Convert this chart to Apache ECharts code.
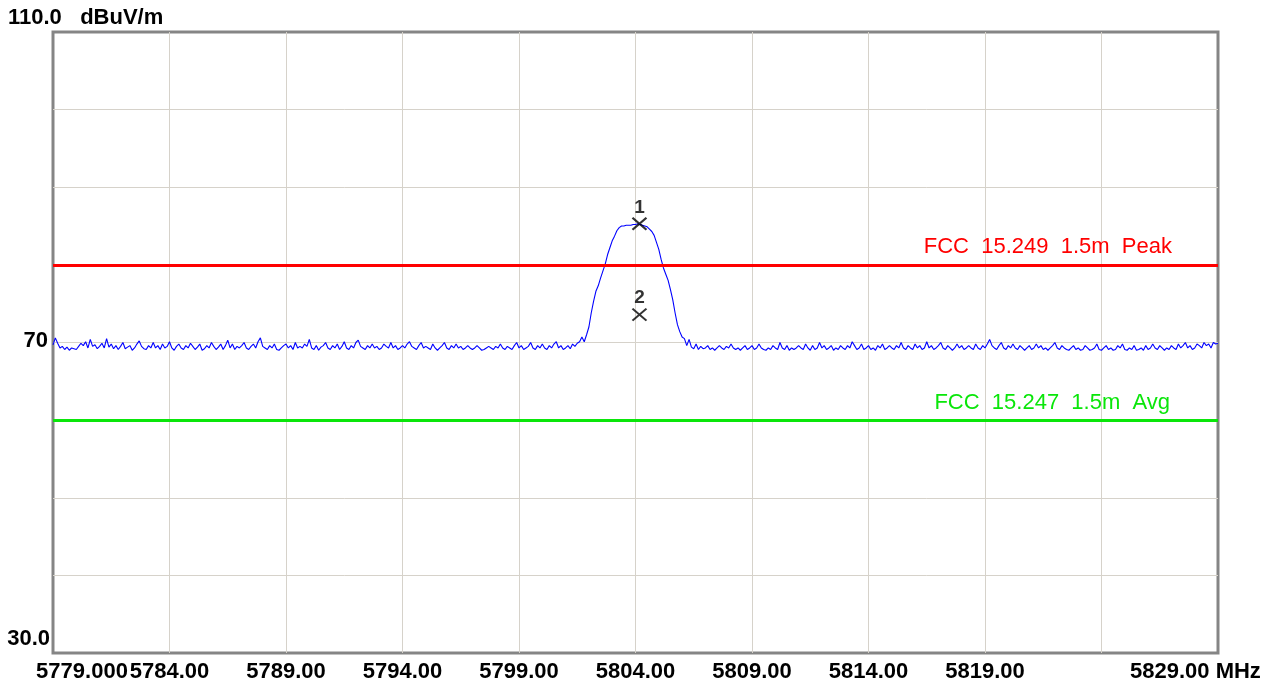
<!DOCTYPE html>
<html>
<head>
<meta charset="utf-8">
<script src="https://cdn.jsdelivr.net/npm/echarts@6/dist/echarts.min.js"></script>
<style>
  html, body { margin: 0; padding: 0; background: #fff; }
  #main { width: 1279px; height: 686px; }
</style>
</head>
<body>
<div id="main"></div>
<script>
// sweep: 5779.0 .. 5829.0 MHz, 0.1 MHz per bin
var freqStart = 5779.0;
var freqStep = 0.1;

// trace levels (dBuV/m), one row = 2 MHz
var traceLevels = [
  69.7,70.6,69.9,69.3,69.5,69.1,69.4,69.0,69.3,69.2,69.1,69.5,69.9,69.6,70.1,69.3,70.4,69.5,69.7,69.2,
  69.5,69.9,69.3,70.5,69.4,69.8,69.2,69.6,69.1,69.5,70.0,69.2,69.4,69.6,69.0,69.3,69.8,70.2,69.5,69.2,
  69.1,69.6,69.3,70.0,69.3,69.6,69.1,69.8,69.3,69.5,70.1,69.3,69.0,69.5,69.8,69.3,69.1,69.6,69.3,69.9,
  69.5,69.1,69.4,69.8,69.0,69.2,69.6,69.3,70.0,69.5,69.1,69.4,69.8,69.1,69.6,70.3,69.3,69.8,69.1,69.5,
  69.3,69.6,70.0,69.3,69.1,69.5,69.8,69.3,70.1,70.6,69.5,69.3,69.1,69.6,69.3,69.8,69.1,69.0,69.3,69.6,
  69.8,69.3,69.6,69.1,70.0,69.3,69.5,69.3,69.8,69.5,70.4,69.3,69.1,69.6,69.0,69.4,69.6,70.0,69.3,69.1,
  69.6,69.3,69.8,69.1,69.5,70.1,69.3,69.1,69.6,69.3,70.0,70.3,69.5,69.3,69.1,69.6,69.3,69.8,69.3,69.5,
  69.1,69.3,69.8,69.5,69.3,70.0,69.3,69.6,69.1,69.3,69.6,69.3,69.8,70.1,69.5,69.3,69.1,69.6,70.0,69.3,
  69.5,69.3,69.1,69.8,69.3,69.0,69.3,69.6,70.0,69.3,69.1,69.6,69.3,69.8,69.3,69.5,69.1,69.3,69.6,69.3,
  69.1,69.3,69.6,69.3,69.0,69.1,69.3,69.5,69.3,69.1,69.5,69.3,69.8,69.3,69.1,69.5,69.3,69.1,69.6,70.0,
  69.3,69.6,69.1,69.3,69.5,70.0,69.3,69.1,69.6,69.3,69.8,69.3,69.1,69.6,69.3,69.8,70.1,69.3,69.6,69.1,
  69.3,69.6,69.2,69.8,69.5,69.9,70.1,70.7,70.1,71.0,72.0,73.8,75.3,76.6,77.3,78.3,79.2,80.1,81.3,82.2,
  83.1,83.7,84.4,84.8,85.0,85.0,85.1,85.1,85.1,85.2,85.2,85.3,85.2,85.1,85.0,84.9,84.6,84.3,83.8,82.9,
  82.0,80.7,79.6,78.8,78.0,76.8,75.5,73.8,72.3,71.4,70.7,70.5,69.6,70.4,69.4,69.2,69.8,69.1,69.5,69.2,
  69.3,69.6,69.1,69.3,69.0,69.3,69.6,69.3,69.1,69.5,69.3,69.8,69.3,69.1,69.3,69.0,69.3,69.6,69.1,69.3,
  69.6,69.1,69.3,69.8,69.3,69.1,69.0,69.3,69.1,69.6,69.3,69.1,70.0,69.3,69.1,69.6,69.0,69.3,69.1,69.3,
  69.6,69.3,69.1,69.8,69.3,69.0,69.6,69.1,69.3,70.0,69.3,69.6,69.1,69.3,69.6,69.0,69.3,69.1,69.6,69.3,
  69.1,69.6,69.3,70.1,69.6,69.1,69.3,69.8,69.1,69.3,69.6,69.1,69.3,69.0,69.6,69.3,69.8,69.1,69.3,69.6,
  69.3,69.1,69.6,69.3,70.0,69.3,69.1,69.6,69.3,69.1,69.8,69.3,69.6,69.1,69.3,70.1,69.3,69.6,69.1,69.3,
  69.6,70.0,69.3,69.1,69.6,69.3,69.0,69.3,69.8,69.3,69.6,69.1,69.3,69.6,69.3,69.1,69.8,69.3,69.1,69.6,
  69.3,69.8,70.4,69.6,69.3,69.1,69.6,70.0,69.3,69.1,69.6,69.3,69.8,69.3,69.1,69.6,69.3,69.0,69.3,69.6,
  69.1,69.3,69.8,69.3,69.6,69.1,69.3,69.0,69.3,69.6,70.0,69.3,69.1,69.6,69.3,69.1,69.0,69.3,69.6,69.1,
  69.3,69.0,69.1,69.6,69.3,69.0,69.1,69.3,69.8,69.1,69.0,69.3,69.6,69.1,69.3,69.0,69.1,69.6,69.3,69.8,
  69.1,69.0,69.3,69.1,69.6,69.0,69.1,69.3,69.0,69.6,69.1,69.3,69.8,69.3,69.1,69.6,69.3,69.0,69.3,69.1,
  69.6,69.3,69.1,69.8,69.3,69.6,70.0,69.3,69.6,69.1,69.3,69.8,69.6,69.3,70.0,69.6,69.8,69.3,70.0,69.8,
  69.9
];

// markers
var markerNames = ['1', '2'];
var markerFreqs = [5804.17, 5804.17];
var markerLevels = [85.3, 73.6];

// limit lines
var limitNames = ['FCC  15.249  1.5m  Peak', 'FCC  15.247  1.5m  Avg'];
var limitLevels = [80, 60];
var limitColors = ['#ff0000', '#0ae60a'];

// axes
var xTicks = [5779, 5784, 5789, 5794, 5799, 5804, 5809, 5814, 5819, 5824, 5829];
var xTickLabels = ['5779.000', '5784.00', '5789.00', '5794.00', '5799.00', '5804.00',
                   '5809.00', '5814.00', '5819.00', '', '5829.00 MHz'];
var yTicks = [110, 70, 30];
var yTickLabels = ['110.0   dBuV/m', '70', '30.0'];

var FONT = '"Liberation Sans", Arial, sans-serif';

var traceData = traceLevels.map(function (v, i) {
  return [+(freqStart + i * freqStep).toFixed(1), v];
});
var markerData = markerNames.map(function (n, i) {
  return { name: n, value: [markerFreqs[i], markerLevels[i]] };
});

var myChart = echarts.init(document.getElementById('main'));
var option = {
  animation: false,
  backgroundColor: '#ffffff',
  grid: {
    left: 53, right: 61, top: 32, bottom: 33,
    show: true,
    backgroundColor: '#ffffff',
    borderColor: '#858585',
    borderWidth: 3
  },
  xAxis: {
    type: 'value',
    min: 5779, max: 5829, interval: 5,
    axisLine: { show: false },
    axisTick: { show: false },
    splitLine: {
      show: true, showMinLine: false, showMaxLine: false,
      lineStyle: { color: '#d6d2ca', width: 1 }
    },
    axisLabel: {
      margin: 8,
      color: '#000',
      fontFamily: FONT,
      fontWeight: 'bold',
      fontSize: 22,
      formatter: function (v) {
        var i = xTicks.indexOf(Math.round(v));
        if (i <= 0 || i >= xTicks.length - 2) return '';
        return xTickLabels[i];
      }
    }
  },
  yAxis: {
    type: 'value',
    min: 30, max: 110, interval: 10,
    axisLine: { show: false },
    axisTick: { show: false },
    axisLabel: { show: false },
    splitLine: {
      show: true, showMinLine: false, showMaxLine: false,
      lineStyle: { color: '#d6d2ca', width: 1 }
    }
  },
  series: [
    {
      type: 'line',
      data: traceData,
      showSymbol: false,
      symbol: 'none',
      lineStyle: { color: '#0000ff', width: 1.1 },
      z: 3,
      markLine: {
        silent: true,
        symbol: 'none',
        label: { show: false },
        data: limitLevels.map(function (v, i) {
          return { yAxis: v, lineStyle: { color: limitColors[i], width: 3, type: 'solid' } };
        })
      }
    },
    {
      type: 'scatter',
      data: markerData,
      symbol: 'path://M0,0L10,10M10,0L0,10',
      symbolSize: [14, 12],
      itemStyle: { color: 'rgba(0,0,0,0)', borderColor: '#000', borderWidth: 2 },
      label: {
        show: true,
        position: 'top',
        distance: 0,
        formatter: '{b}',
        color: '#000',
        fontFamily: FONT,
        fontWeight: 'bold',
        fontSize: 19
      },
      z: 5
    }
  ]
};
myChart.setOption(option);

// texts placed off the axes, positioned from the axis scales
var px = function (v) { return myChart.convertToPixel({ xAxisIndex: 0 }, v); };
var py = function (v) { return myChart.convertToPixel({ yAxisIndex: 0 }, v); };

function txt(x, y, s, align, color, bold) {
  return {
    type: 'text', x: x, y: y, z: 10,
    style: {
      text: s, fill: color || '#000',
      font: (bold ? 'bold ' : '') + '22px ' + FONT,
      align: align, verticalAlign: 'middle'
    }
  };
}

var g = [];
g.push(txt(8, py(yTicks[0]) - 14, yTickLabels[0], 'left', '#000', true));
g.push(txt(48, py(yTicks[1]) - 2, yTickLabels[1], 'right', '#000', true));
g.push(txt(50, py(yTicks[2]) - 14, yTickLabels[2], 'right', '#000', true));
g.push(txt(px(xTicks[0]) + 29, 672, xTickLabels[0], 'center', '#000', true));
g.push(txt(px(xTicks[xTicks.length - 1]) - 88, 672, xTickLabels[xTicks.length - 1], 'left', '#000', true));
g.push(txt(px(5829) - 46, py(limitLevels[0]) - 18, limitNames[0], 'right', limitColors[0], false));
g.push(txt(px(5829) - 48, py(limitLevels[1]) - 17, limitNames[1], 'right', limitColors[1], false));
myChart.setOption({ graphic: g });
</script>
</body>
</html>
